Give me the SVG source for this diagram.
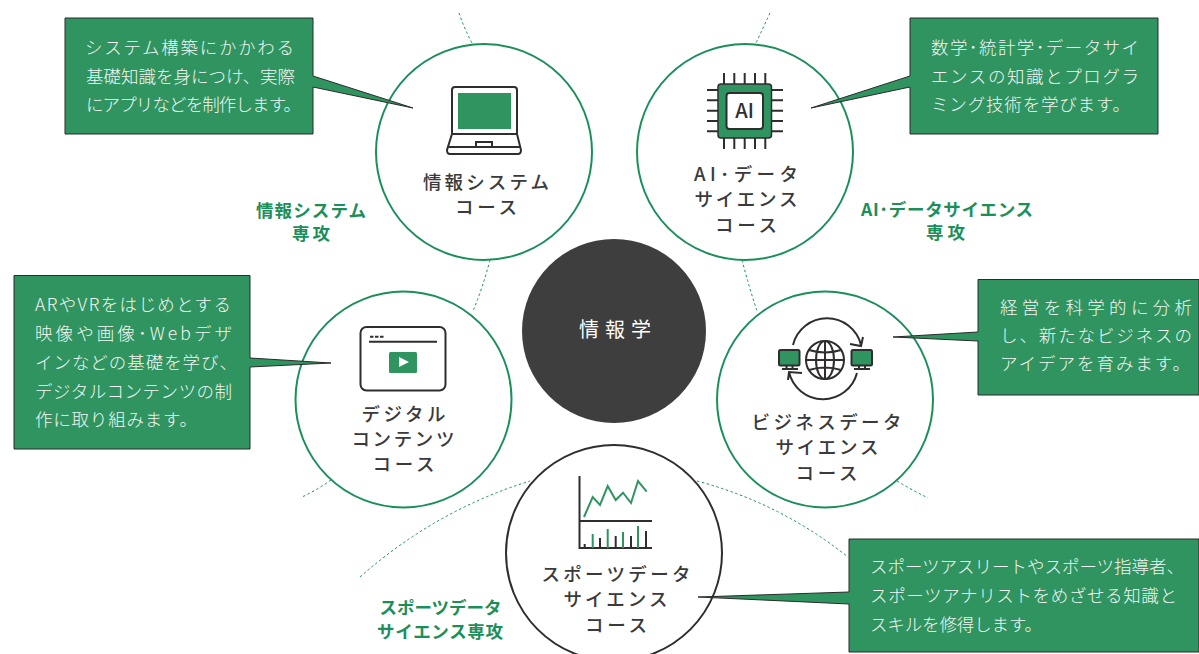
<svg xmlns="http://www.w3.org/2000/svg" width="1199" height="654" viewBox="0 0 1199 654">
<style>
text{font-family:"Noto Sans CJK JP","Noto Sans",sans-serif;}
.ring{fill:#fff;stroke:#1b8f5a;stroke-width:2}
.ringd{fill:#fff;stroke:#2f2d2e;stroke-width:2}
.box{fill:#2f9460;stroke:#2b2b2b;stroke-width:1}
.d{fill:none;stroke:#1b8f5a;stroke-width:1;stroke-dasharray:2.5 2.5}
.t{font-size:18.500px;fill:#3a3a3a;text-anchor:middle;font-weight:500}
.b{font-size:17.500px;fill:#f2f7f4;font-weight:300}
.g{font-size:17.500px;fill:#1b8f5a;text-anchor:middle;font-weight:700}
.i{fill:none;stroke:#2f2d2e;stroke-width:2}
.ig{fill:none;stroke:#2f9460;stroke-width:2}
</style>
<g id="connectors">
<path class="d" d="M459 13Q464 28 472 43"/>
<path class="d" d="M490 260Q483 287 473 311"/>
<path class="d" d="M770 13Q763 28 756 43"/>
<path class="d" d="M742 260Q749 287 757 311"/>
<path class="d" d="M331 480Q317 490 302 497"/>
<path class="d" d="M897 481Q912 490 928 498"/>
<path class="d" d="M360 577Q436 510 530 481"/>
<path class="d" d="M697 481Q780 503 848 557"/>
</g>
<g id="center"><circle cx="614" cy="331" r="92" fill="#3e3e3e"/><text x="615" y="337" font-size="20" fill="#fff" text-anchor="middle" textLength="72">情報学</text></g>
<g id="label-joho"><text class="g" x="311" y="217" textLength="110">情報システム</text><text class="g" x="311" y="240" textLength="38">専攻</text></g>
<g id="label-ai"><text class="g" x="947" y="216" textLength="172">AI･データサイエンス</text><text class="g" x="945.500" y="239" textLength="39">専攻</text></g>
<g id="label-sports"><text class="g" x="440.500" y="614" textLength="122">スポーツデータ</text><text class="g" x="440" y="638" textLength="126">サイエンス専攻</text></g>

<g id="course-joho"><circle class="ring" cx="484" cy="152" r="108"/>
<path class="i" d="M452 133V90Q452 87 455 87H514Q517 87 517 90V133"/><rect x="458" y="93" width="53" height="36" fill="#2f9460"/>
<path class="i" d="M452 134H517L521 150Q521 154 518 154H450Q447 154 447 150Z"/><path class="i" stroke-width="1.500" d="M448 147H520M476 146V142H492V146"/>
<text class="t" x="486" y="189" textLength="126">情報システム</text><text class="t" x="486" y="214" textLength="62">コース</text></g>

<g id="course-ai"><circle class="ring" cx="745" cy="152" r="108"/>
<path class="i" stroke-width="1.500" d="M724 73V149M734.300 73V149M744.700 73V149M755 73V149M765.300 73V149M707 90H783M707 100.300H783M707 110.700H783M707 121H783M707 131.300H783"/>
<rect x="718" y="84" width="53.500" height="54" rx="3" fill="#2f9460" stroke="#2f2d2e" stroke-width="1.500"/>
<rect x="726.500" y="93" width="36.500" height="36" rx="3" fill="#fff" stroke="#2f2d2e" stroke-width="2"/>
<text x="744.500" y="118" font-size="20" fill="#2f2d2e" text-anchor="middle" font-weight="500" font-family="Noto Sans,sans-serif">AI</text>
<text class="t" x="746" y="181" textLength="104">AI･データ</text><text class="t" x="746" y="206" textLength="103">サイエンス</text><text class="t" x="746" y="232" textLength="62">コース</text></g>

<g id="course-digital"><circle class="ring" cx="403.500" cy="399.500" r="108"/>
<rect x="360.500" y="327" width="85" height="63.500" rx="6" fill="none" stroke="#2f2d2e" stroke-width="2"/>
<path class="i" stroke-width="1.500" d="M369 341.700H437"/><path class="i" stroke-dasharray="3.500 1.500" stroke-width="2" d="M370 336.700H385"/>
<rect x="389" y="352" width="28" height="21" rx="1.500" fill="#2f9460"/><path d="M399 357L409 362L399 367Z" fill="#fff"/>
<text class="t" x="403.500" y="421" textLength="84">デジタル</text><text class="t" x="403" y="446" textLength="103">コンテンツ</text><text class="t" x="403.500" y="471" textLength="62">コース</text></g>

<g id="course-business"><circle class="ring" cx="825" cy="399.500" r="108"/>
<rect x="779" y="350" width="20.500" height="15.500" rx="1.500" fill="#2f9460" stroke="#2f2d2e" stroke-width="2"/><path class="i" stroke-width="1.500" d="M782 369H798M786.500 366V369M792.500 366V369"/>
<rect x="851.500" y="350" width="20.500" height="15.500" rx="1.500" fill="#2f9460" stroke="#2f2d2e" stroke-width="2"/><path class="i" stroke-width="1.500" d="M854 369H870M859 366V369M865 366V369"/>
<circle class="i" cx="825" cy="360" r="19"/><ellipse class="i" stroke-width="1.500" cx="825" cy="360" rx="9" ry="19"/><path class="i" stroke-width="1.500" d="M825 341V379M806 360H844M809 350Q825 355 841 350M809 370Q825 365 841 370"/>
<path class="i" stroke-width="1.500" d="M793 345A35 35 0 0 1 861 345M850 344L861 346L863 337"/>
<path class="i" stroke-width="1.500" d="M857 373A35 35 0 0 1 789 372M802 373L789 372L788 380"/>
<text class="t" x="826.500" y="429" textLength="150">ビジネスデータ</text><text class="t" x="827" y="454" textLength="103">サイエンス</text><text class="t" x="826.500" y="480" textLength="62">コース</text></g>

<g id="course-sports"><circle class="ringd" cx="614" cy="553" r="108"/>
<path class="i" d="M579.500 476V548H652M579.500 521H652"/>
<path class="ig" d="M584 517L592.700 497L600 505L607.700 486L615.700 500L623 492.700L631 503L638 481L646.700 491.700"/>
<path class="i" d="M584.700 548V544M600 548V538M615.700 548V536M631 548V536M646 548V531"/><path class="ig" d="M592.700 548V534M607.700 548V529M623 548V532M638 548V526"/>
<text class="t" x="616" y="581" textLength="149">スポーツデータ</text><text class="t" x="615.500" y="606" textLength="104">サイエンス</text><text class="t" x="616" y="632" textLength="62">コース</text></g>

<g id="note-joho"><path class="box" d="M65 18H313V76L413 108L313 87V134H65Z"/>
<text class="b" x="85" y="54" textLength="209">システム構築にかかわる</text><text class="b" x="86" y="83" textLength="209">基礎知識を身につけ、実際</text><text class="b" x="86" y="111" textLength="215">にアプリなどを制作します。</text></g>
<g id="note-ai"><path class="box" d="M910 18H1158V134H910V87L811 108L910 76Z"/>
<text class="b" x="931" y="54" textLength="208">数学･統計学･データサイ</text><text class="b" x="931" y="83" textLength="208">エンスの知識とプログラ</text><text class="b" x="931" y="111" textLength="199">ミング技術を学びます。</text></g>
<g id="note-digital"><path class="box" d="M14 275.500H250V358L331 363L250 367V449H14Z"/>
<text class="b" x="35" y="311" textLength="196">ARやVRをはじめとする</text><text class="b" x="35" y="340" textLength="197">映像や画像･Webデザ</text><text class="b" x="35" y="369" textLength="202">インなどの基礎を学び、</text><text class="b" x="35" y="398" textLength="197">デジタルコンテンツの制</text><text class="b" x="35" y="426" textLength="162">作に取り組みます。</text></g>
<g id="note-business"><path class="box" d="M978 279.500H1199V395H978V341L893 337L978 332Z"/>
<text class="b" x="1000" y="314" textLength="192">経営を科学的に分析</text><text class="b" x="1000" y="342" textLength="192">し、新たなビジネスの</text><text class="b" x="1000" y="370" textLength="190">アイデアを育みます。</text></g>
<g id="note-sports"><path class="box" d="M849 539H1199V652H849V604L698 597L849 592Z"/>
<text class="b" x="870" y="573" textLength="314">スポーツアスリートやスポーツ指導者、</text><text class="b" x="870" y="602" textLength="307">スポーツアナリストをめざせる知識と</text><text class="b" x="870" y="631" textLength="172">スキルを修得します。</text></g>
</svg>
